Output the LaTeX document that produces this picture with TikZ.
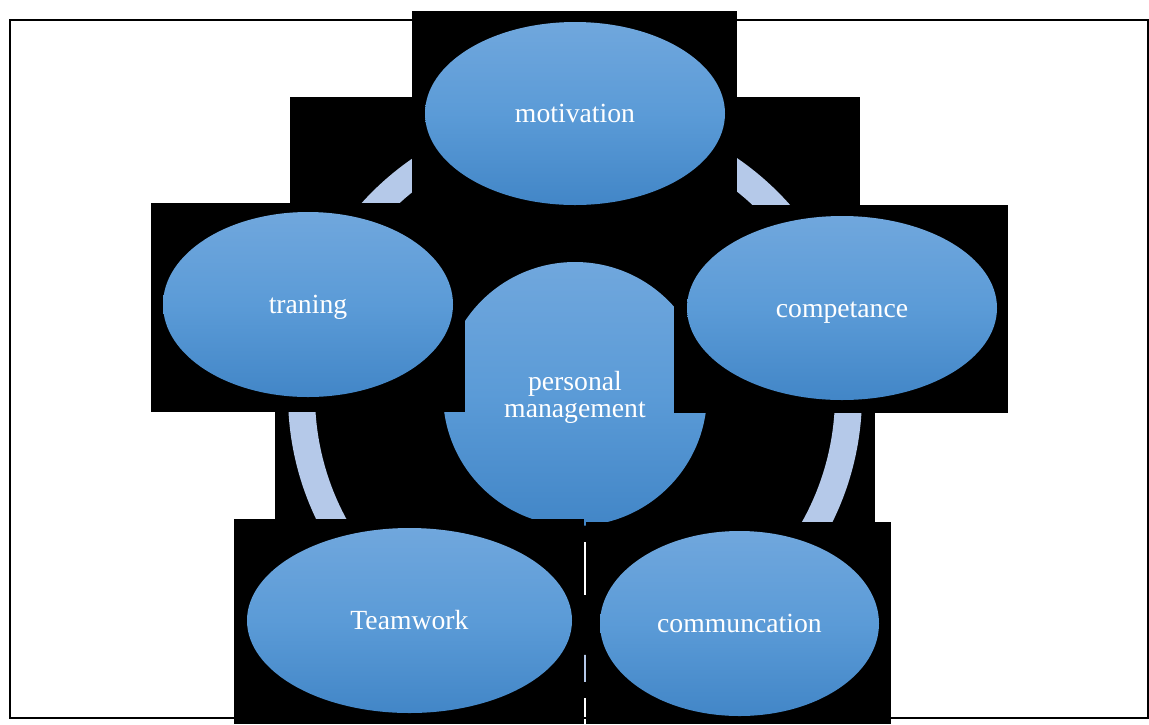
\documentclass[tikz,border=0pt]{standalone}
\usepackage{fontspec}
\setmainfont{Liberation Serif}
\usepackage{xcolor}
\usetikzlibrary{shapes.geometric}

\definecolor{bubbletop}{RGB}{112,167,221}
\definecolor{bubblemid}{RGB}{91,155,215}
\definecolor{bubblebot}{RGB}{66,134,199}
\definecolor{ringblue}{RGB}{181,201,233}

\begin{document}
\begin{tikzpicture}[x=1pt, y=-1pt,
    bubble/.style={ellipse, inner sep=0pt, text=white, font=\fontsize{27.7}{27}\selectfont,
        text height=25pt, text depth=6.8pt,
        top color=bubbletop, bottom color=bubblebot, middle color=bubblemid},
    backdrop/.style={fill=black}]
    \useasboundingbox (0,0) rectangle (1149,724);

    % Outer frame
    \draw[line width=1.5pt] (10,20) rectangle (1148,718);

    % Ring (with its black backing)
    \fill[backdrop] (290,97) rectangle (860,412);
    \fill[backdrop] (275,412) rectangle (875,542);
    \fill[backdrop] (560,595) rectangle (610,698);
    \draw[ringblue, line width=27pt] (575,395) circle [radius=273.5pt];

    % Centre
    \node[bubble, circle, minimum size=264pt, align=center, text height=54pt, text depth=6.8pt]
        (personal) at (575,394) {personal\\management};

    % Outer bubbles
    \fill[backdrop] (412,11) rectangle (737,216);
    \node[bubble, minimum width=300pt, minimum height=183pt] (motivation) at (575,113.5) {motivation};

    \fill[backdrop] (151,203) rectangle (465,412);
    \node[bubble, minimum width=290pt, minimum height=185pt] (traning) at (308,304.5) {traning};

    \fill[backdrop] (674,205) rectangle (1008,413);
    \node[bubble, minimum width=310pt, minimum height=184pt] (competance) at (842,308) {competance};

    \fill[backdrop] (234,519) rectangle (584,724);
    \node[bubble, minimum width=325pt, minimum height=185pt] (teamwork) at (409.5,620.5) {Teamwork};

    \fill[backdrop] (586,522) rectangle (891,724);
    \node[bubble, minimum width=279pt, minimum height=185pt] (communcation) at (739.5,623.5) {communcation};
\end{tikzpicture}
\end{document}
